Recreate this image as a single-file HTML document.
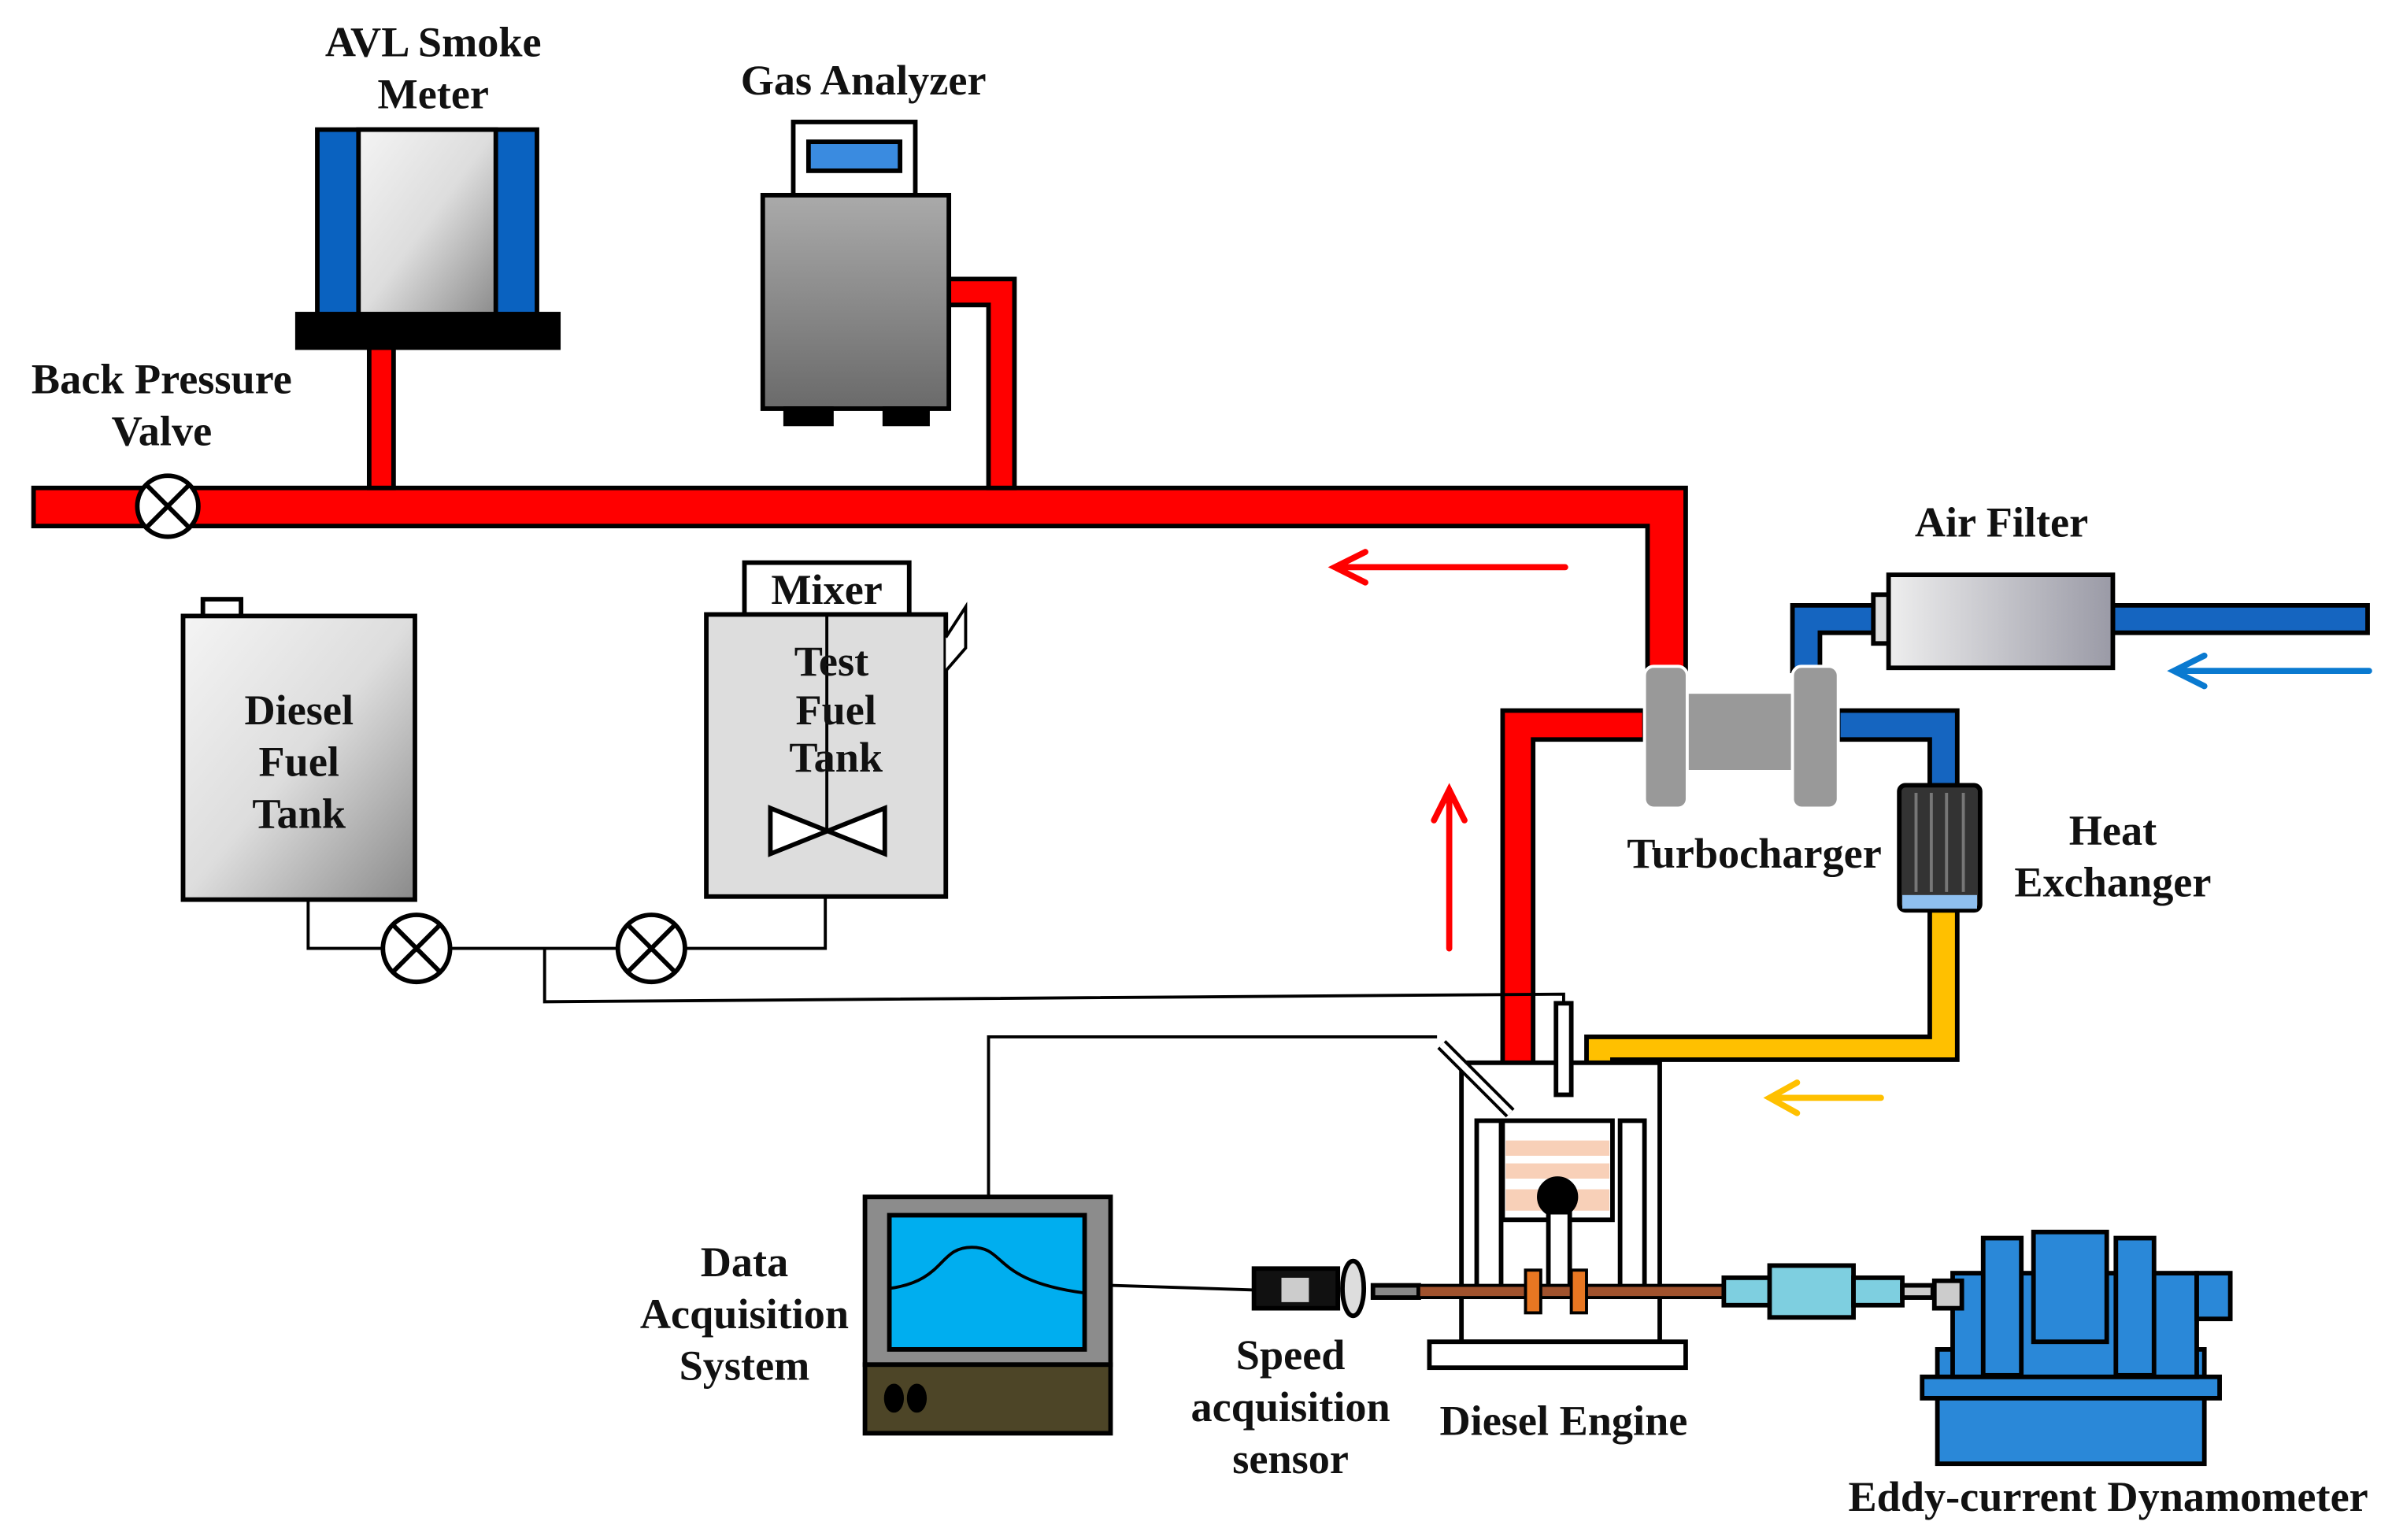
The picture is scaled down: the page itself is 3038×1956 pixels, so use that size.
<!DOCTYPE html>
<html><head><meta charset="utf-8"><style>
html,body{margin:0;padding:0;background:#fff;}
svg{display:block;}
text{font-family:"Liberation Serif",serif;font-weight:bold;font-size:28px;fill:#111;}
</style></head><body>
<svg width="3038" height="1956" viewBox="0 0 1568 1010" preserveAspectRatio="none" xmlns="http://www.w3.org/2000/svg">
<defs>
<linearGradient id="g1" x1="0" y1="0" x2="1" y2="1"><stop offset="0" stop-color="#f4f4f4"/><stop offset="0.5" stop-color="#ddd"/><stop offset="1" stop-color="#8a8a8a"/></linearGradient>
<linearGradient id="g2" x1="0" y1="0" x2="0" y2="1"><stop offset="0" stop-color="#aaa"/><stop offset="1" stop-color="#6a6a6a"/></linearGradient>
<linearGradient id="g3" x1="0" y1="0" x2="1" y2="0"><stop offset="0" stop-color="#eee"/><stop offset="1" stop-color="#9a9aa6"/></linearGradient>
</defs>
<g stroke="#000" stroke-width="3">
<path d="M22 320 H1105 V440 H1080 V345 H22 Z" fill="#f00"/>
<path d="M242 228 V320 H258 V228 Z" fill="#f00"/>
<path d="M622 183 H665 V320 H648 V200 H622 Z" fill="#f00"/>
<path d="M1078 466 H985 V730 H1005 V485 H1078 Z" fill="#f00"/>
<path d="M1552 397 H1385 V415 H1552 Z" fill="#1565c0"/>
<path d="M1230 397 H1175 V440 H1193 V415 H1230 Z" fill="#1565c0"/>
<path d="M1205 466 H1283 V515 H1265 V485 H1205 Z" fill="#1565c0"/>
<path d="M1265 597 H1283 V695 H1057 V718 H1040 V680 H1265 Z" fill="#ffc000"/>
<circle cx="110" cy="332" r="20" fill="#fff"/>
<path d="M96 318 L124 346 M124 318 L96 346"/>
<rect x="208" y="85" width="144" height="123" fill="#0a62c0"/>
<rect x="235" y="85" width="90" height="123" fill="url(#g1)"/>
<rect x="195" y="206" width="171" height="22" fill="#000"/>
<rect x="520" y="80" width="80" height="48" fill="#fff"/>
<rect x="530" y="93" width="60" height="19" fill="#3a8be0"/>
<rect x="500" y="128" width="122" height="140" fill="url(#g2)"/>
<rect x="515" y="268" width="30" height="10" fill="#000"/>
<rect x="580" y="268" width="28" height="10" fill="#000"/>
<rect x="1228" y="390" width="12" height="32" fill="#ddd"/>
<rect x="1238" y="377" width="147" height="61" fill="url(#g3)"/>
<rect x="1105" y="455" width="70" height="50" fill="#999" stroke="none"/>
<rect x="1078" y="437" width="28" height="93" rx="6" fill="#999" stroke="#fff" stroke-width="2"/>
<rect x="1175" y="437" width="30" height="93" rx="6" fill="#999" stroke="#fff" stroke-width="2"/>
<rect x="1245" y="515" width="53" height="82" rx="4" fill="#333"/>
<path d="M1256 520 V585 M1266 520 V585 M1276 520 V585 M1287 520 V585" stroke="#777" stroke-width="2"/>
<rect x="1247" y="587" width="49" height="9" fill="#8fc0f0" stroke="none"/>
<rect x="958" y="697" width="130" height="183" fill="#fff"/>
<rect x="968" y="735" width="16" height="110" fill="#fff"/>
<rect x="1062" y="735" width="16" height="110" fill="#fff"/>
<rect x="985" y="735" width="72" height="65" fill="#fff"/>
<rect x="987" y="748" width="68" height="10" fill="#f8d0b8" stroke="none"/>
<rect x="987" y="763" width="68" height="10" fill="#f8d0b8" stroke="none"/>
<rect x="987" y="780" width="68" height="14" fill="#f8d0b8" stroke="none"/>
<circle cx="1021" cy="785" r="12" fill="#000"/>
<rect x="1015" y="795" width="14" height="50" fill="#fff"/>
<rect x="937" y="880" width="168" height="17" fill="#fff"/>
<path d="M945 685 L990 730" stroke-width="8"/><path d="M945 685 L990 730" stroke="#fff" stroke-width="4"/>
<rect x="1020" y="658" width="10" height="60" fill="#fff"/>
<rect x="900" y="843" width="30" height="8" fill="#888"/>
<rect x="930" y="843" width="200" height="8" fill="#a0522d" stroke-width="2"/>
<rect x="1000" y="833" width="10" height="28" fill="#e87722" stroke-width="2"/>
<rect x="1030" y="833" width="10" height="28" fill="#e87722" stroke-width="2"/>
<rect x="822" y="832" width="55" height="26" fill="#111"/>
<rect x="840" y="838" width="18" height="16" fill="#ccc" stroke="none"/>
<ellipse cx="887" cy="845" rx="7" ry="18" fill="#ddd"/>
<rect x="1130" y="838" width="35" height="18" fill="#7ecfe0"/>
<rect x="1160" y="830" width="55" height="34" fill="#7ecfe0"/>
<rect x="1215" y="838" width="32" height="18" fill="#7ecfe0"/>
<rect x="1247" y="843" width="20" height="8" fill="#ccc"/>
<rect x="1270" y="885" width="175" height="75" fill="#2a88d8"/>
<rect x="1260" y="903" width="195" height="14" fill="#2a88d8"/>
<rect x="1280" y="835" width="160" height="68" fill="#2a88d8"/>
<rect x="1300" y="812" width="25" height="90" fill="#2a88d8"/>
<rect x="1387" y="812" width="25" height="90" fill="#2a88d8"/>
<rect x="1333" y="808" width="48" height="72" fill="#2a88d8"/>
<rect x="1268" y="840" width="18" height="18" fill="#ccc"/>
<rect x="1440" y="835" width="22" height="30" fill="#2a88d8"/>
<rect x="567" y="785" width="161" height="110" fill="#8c8c8c"/>
<rect x="583" y="797" width="128" height="88" fill="#00aeef"/>
<path d="M583 845 C620 840 615 818 637 818 C660 818 650 840 711 848" fill="none" stroke-width="2"/>
<rect x="567" y="895" width="161" height="45" fill="#4d4527"/>
<ellipse cx="586" cy="917" rx="5" ry="8" fill="#000"/><ellipse cx="601" cy="917" rx="5" ry="8" fill="#000"/>
<rect x="133" y="393" width="25" height="11" fill="#fff"/>
<rect x="120" y="404" width="152" height="186" fill="url(#g1)"/>
<rect x="488" y="369" width="108" height="34" fill="#fff"/>
<rect x="463" y="403" width="157" height="185" fill="#ddd"/>
<path d="M620 418 L633 398 V425 L620 440" fill="#fff" stroke-width="2"/>
<path d="M542 403 V545" stroke-width="2"/>
<path d="M505 530 L580 560 V530 L505 560 Z" fill="#fff"/>
</g>
<g stroke="#000" stroke-width="2" fill="none">
<path d="M202 590 V622 H250 M296 622 H405 M449 622 H541 V588"/>
<path d="M357 622 V657 L1025 652 V658"/>
<path d="M648 785 V680 H942"/>
<path d="M728 843 L822 846"/>
</g>
<g stroke="#000" stroke-width="3" fill="#fff">
<circle cx="273" cy="622" r="22"/><circle cx="427" cy="622" r="22"/>
</g>
<path d="M257 606 L289 638 M289 606 L257 638 M411 606 L443 638 M443 606 L411 638" stroke="#000" stroke-width="3"/>
<g fill="none" stroke-width="4" stroke-linecap="round">
<path d="M1026 372 H875 M895 362 L875 372 L895 382" stroke="#f00"/>
<path d="M950 622 V518 M940 538 L950 518 L960 538" stroke="#f00"/>
<path d="M1553 440 H1425 M1445 430 L1425 440 L1445 450" stroke="#0a7ad0"/>
<path d="M1233 720 H1160 M1178 710 L1160 720 L1178 730" stroke="#ffc000"/>
</g>
<text x="284" y="37" text-anchor="middle">AVL Smoke</text>
<text x="284" y="71" text-anchor="middle">Meter</text>
<text x="566" y="62" text-anchor="middle">Gas Analyzer</text>
<text x="106" y="258" text-anchor="middle">Back Pressure</text>
<text x="106" y="292" text-anchor="middle">Valve</text>
<text x="1312" y="352" text-anchor="middle">Air Filter</text>
<text x="542" y="396" text-anchor="middle" font-size="25">Mixer</text>
<text x="196" y="475" text-anchor="middle">Diesel</text>
<text x="196" y="509" text-anchor="middle">Fuel</text>
<text x="196" y="543" text-anchor="middle">Tank</text>
<text x="545" y="443" text-anchor="middle">Test</text>
<text x="548" y="475" text-anchor="middle">Fuel</text>
<text x="548" y="506" text-anchor="middle">Tank</text>
<text x="1150" y="569" text-anchor="middle">Turbocharger</text>
<text x="1385" y="554" text-anchor="middle">Heat</text>
<text x="1385" y="588" text-anchor="middle">Exchanger</text>
<text x="488" y="837" text-anchor="middle">Data</text>
<text x="488" y="871" text-anchor="middle">Acquisition</text>
<text x="488" y="905" text-anchor="middle">System</text>
<text x="846" y="898" text-anchor="middle">Speed</text>
<text x="846" y="932" text-anchor="middle">acquisition</text>
<text x="846" y="966" text-anchor="middle">sensor</text>
<text x="1025" y="941" text-anchor="middle">Diesel Engine</text>
<text x="1382" y="991" text-anchor="middle">Eddy-current Dynamometer</text>
</svg>
</body></html>
